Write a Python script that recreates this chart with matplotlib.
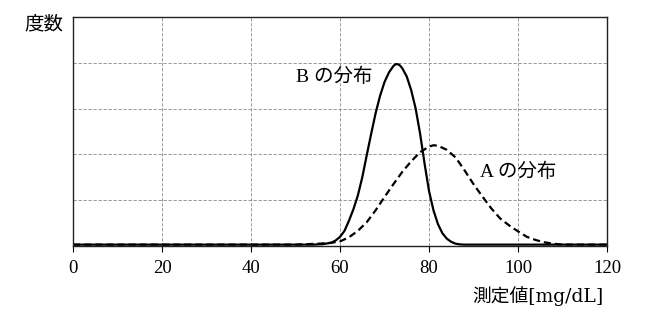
import matplotlib
matplotlib.use('Agg')
import matplotlib.pyplot as plt

x_b = [0, 20, 40, 50, 54, 56, 58, 59, 60, 61, 62, 63, 64, 65, 66, 67, 68, 69, 70, 71, 72, 72.5, 73, 73.5,
       74, 75, 76, 77, 78, 79, 80, 81, 82, 83, 84, 85, 86, 87, 88, 90, 100, 120]
y_b = [0.03, 0.03, 0.03, 0.03, 0.03, 0.04, 0.07, 0.12, 0.2, 0.33, 0.55, 0.8, 1.1, 1.5, 1.98, 2.45, 2.9, 3.28, 3.58, 3.79, 3.93, 3.97, 3.97, 3.94,
       3.88, 3.7, 3.4, 3.0, 2.45, 1.8, 1.2, 0.78, 0.48, 0.28, 0.16, 0.09, 0.05, 0.035, 0.03, 0.03, 0.03, 0.03]

x_a = [0, 20, 40, 50, 55, 58, 60, 62, 64, 66, 68, 70, 72, 74, 76, 78, 80, 81, 82, 84, 86, 88,
       90, 92, 94, 96, 98, 100, 102, 104, 106, 108, 110, 120]
y_a = [0.03, 0.03, 0.03, 0.03, 0.05, 0.07, 0.1, 0.19, 0.33, 0.52, 0.78, 1.07, 1.35, 1.62, 1.85, 2.05, 2.17, 2.2, 2.19, 2.1, 1.93, 1.65,
       1.35, 1.08, 0.82, 0.6, 0.45, 0.32, 0.2, 0.13, 0.08, 0.05, 0.03, 0.03]

x_ticks = [0, 20, 40, 60, 80, 100, 120]
y_grid = [1, 2, 3, 4]

serif_jp = ['Liberation Serif', 'Noto Sans CJK JP']

fig = plt.figure(figsize=(6.53, 3.21), dpi=100)
ax = fig.add_axes([0.1118, 0.2336, 0.8178, 0.7134])

ax.plot(x_b, y_b, color='black', lw=1.6, solid_joinstyle='round')
ax.plot(x_a, y_a, color='black', lw=1.6, linestyle=(0, (3.2, 1.8)))

ax.set_xlim(0, 120)
ax.set_ylim(0, 5)
ax.set_xticks(x_ticks)
ax.set_yticks(y_grid)
ax.set_yticklabels([])
ax.tick_params(axis='y', length=0)
ax.tick_params(axis='x', length=4, width=0.8, direction='out', pad=6)
for lab in ax.get_xticklabels():
    lab.set_family(serif_jp)
    lab.set_fontsize(13.5)

ax.grid(True, color='#8a8a8a', lw=0.6, linestyle=(0, (4, 2)))
ax.set_axisbelow(True)
for s in ax.spines.values():
    s.set_linewidth(1.0)
    s.set_color('#222222')

fig.text(372 / 653, 1 - 77 / 321, 'B の分布', ha='right', va='center', family=serif_jp, fontsize=14)
fig.text(480 / 653, 1 - 172 / 321, 'A の分布', ha='left', va='center', family=serif_jp, fontsize=14)
fig.text(63 / 653, 1 - 25 / 321, '度数', ha='right', va='center', family=serif_jp, fontsize=14)
fig.text(604 / 653, 1 - 296 / 321, '測定値[mg/dL]', ha='right', va='center',
         family=['DejaVu Serif', 'Noto Sans CJK JP'], fontsize=13.5)

fig.savefig('out.png', dpi=100)
